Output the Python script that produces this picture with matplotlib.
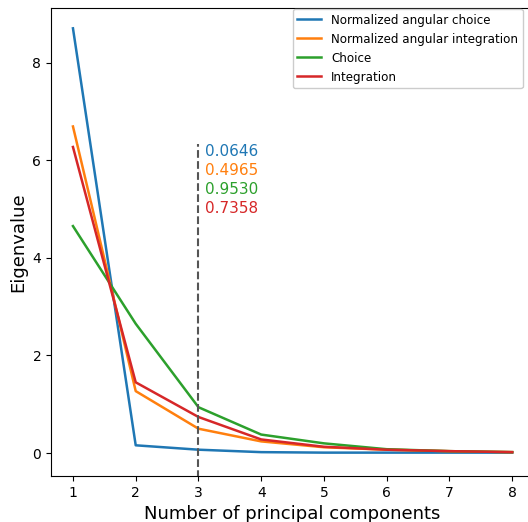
import matplotlib.pyplot as plt

components = [1, 2, 3, 4, 5, 6, 7, 8]
nach = [8.70, 0.16, 0.07, 0.02, 0.01, 0.01, 0.01, 0.01]
nain = [6.69, 1.27, 0.50, 0.24, 0.12, 0.07, 0.04, 0.02]
choice = [4.65, 2.65, 0.94, 0.38, 0.20, 0.08, 0.04, 0.02]
integ = [6.27, 1.45, 0.74, 0.28, 0.13, 0.07, 0.04, 0.02]

labels = ['Normalized angular choice', 'Normalized angular integration', 'Choice', 'Integration']
ratios = ['0.0646', '0.4965', '0.9530', '0.7358']
colors = ['#1f77b4', '#ff7f0e', '#2ca02c', '#d62728']

fig = plt.figure(figsize=(5.28, 5.22), dpi=100)
ax = fig.add_axes([0.0966, 0.088, 0.915, 0.897])

for series, lab, col in zip([nach, nain, choice, integ], labels, colors):
    ax.plot(components, series, color=col, lw=1.8, label=lab)

# cut-off marker at 3 components
ax.plot([3, 3], [-0.5, 6.33], color='#555555', lw=1.5, ls='--')
for i, (txt, col) in enumerate(zip(ratios, colors)):
    ax.text(3.1, 6.18 - i * 0.39, txt, color=col, fontsize=11, va='center', ha='left')

ax.set_xlim(0.65, 8.35)
ax.set_ylim(-0.47, 9.12)
ax.set_xticks(components)
ax.set_yticks([0, 2, 4, 6, 8])
ax.tick_params(labelsize=10)
ax.set_xlabel('Number of principal components', fontsize=13)
ax.set_ylabel('Eigenvalue', fontsize=13)

ax.legend(loc='upper right', bbox_to_anchor=(0.99, 0.983), bbox_transform=fig.transFigure,
          fontsize=8.6, framealpha=1, borderaxespad=0)

fig.savefig('out.png', dpi=100)
